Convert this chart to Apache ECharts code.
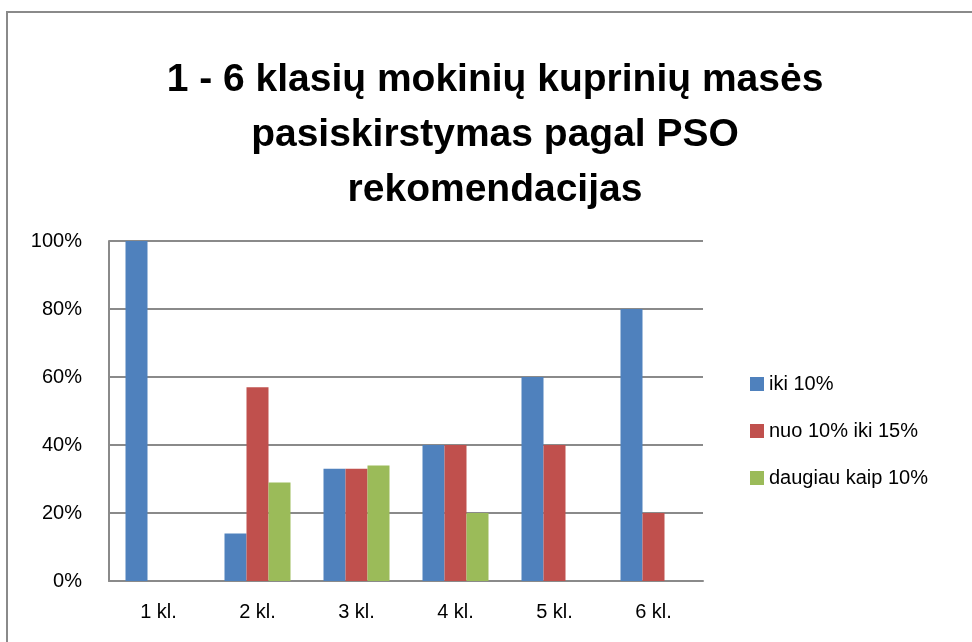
<!DOCTYPE html>
<html>
<head>
<meta charset="utf-8">
<script src="https://cdn.jsdelivr.net/npm/echarts@6/dist/echarts.min.js"></script>
<style>
  html, body { margin: 0; padding: 0; background: #fff; }
  #chart { width: 972px; height: 642px; }
</style>
</head>
<body>
<div id="chart"></div>
<script>
// duomenys
const categories = ['1 kl.', '2 kl.', '3 kl.', '4 kl.', '5 kl.', '6 kl.'];
const iki10 = [100, 14, 33, 40, 60, 80];
const nuo10iki15 = [0, 57, 33, 40, 40, 20];
const daugiau10 = [0, 29, 34, 20, 0, 0];
const seriesNames = ['iki 10%', 'nuo 10% iki 15%', 'daugiau kaip 10%'];
const colors = ['#4F81BD', '#C0504D', '#9BBB59'];

const font = '"Liberation Sans", "DejaVu Sans", sans-serif';

const chart = echarts.init(document.getElementById('chart'));
chart.setOption({
    animation: false,
    graphic: [{
        type: 'rect',
        shape: { x: 7, y: 12, width: 1000, height: 700 },
        style: { fill: 'none', stroke: '#8a8a8a', lineWidth: 2 },
        silent: true
    }],
    title: {
        text: '1 - 6 klasių mokinių kuprinių masės\npasiskirstymas pagal PSO\nrekomendacijas',
        left: 490,
        top: 48,
        textAlign: 'center',
        textStyle: { fontFamily: font, fontWeight: 'bold', fontSize: 39, lineHeight: 55, color: '#000' }
    },
    legend: {
        orient: 'vertical',
        left: 745,
        top: 369,
        itemWidth: 14,
        itemHeight: 14,
        itemGap: 27,
        icon: 'rect',
        textStyle: { fontFamily: font, fontSize: 20, lineHeight: 20, color: '#000' },
        data: seriesNames
    },
    grid: { left: 109, top: 241, width: 594, height: 340, containLabel: false },
    xAxis: {
        type: 'category',
        data: categories,
        axisLine: { lineStyle: { color: '#8a8a8a', width: 2 } },
        axisTick: { show: false },
        axisLabel: { fontFamily: font, fontSize: 20, color: '#000', margin: 21 }
    },
    yAxis: {
        type: 'value',
        min: 0,
        max: 100,
        interval: 20,
        axisLine: { show: true, lineStyle: { color: '#8a8a8a', width: 2 } },
        axisTick: { show: false },
        splitLine: { lineStyle: { color: '#8a8a8a', width: 2 } },
        axisLabel: { fontFamily: font, fontSize: 20, color: '#000', margin: 27, formatter: '{value}%' }
    },
    series: [
        { name: seriesNames[0], type: 'bar', data: iki10, barWidth: 22, barGap: '0%', itemStyle: { color: colors[0] } },
        { name: seriesNames[1], type: 'bar', data: nuo10iki15, barWidth: 22, barGap: '0%', itemStyle: { color: colors[1] } },
        { name: seriesNames[2], type: 'bar', data: daugiau10, barWidth: 22, barGap: '0%', itemStyle: { color: colors[2] } }
    ]
});
</script>
</body>
</html>
